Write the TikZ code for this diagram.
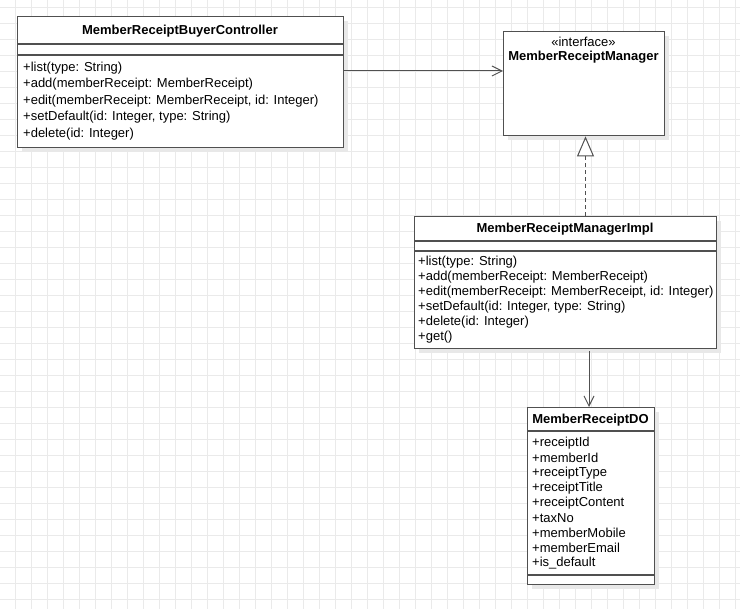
\documentclass[tikz,border=0pt]{standalone}
\usepackage{fontspec}
\setmainfont{Liberation Sans}
\usetikzlibrary{arrows.meta,calc}
\definecolor{gridc}{HTML}{EAEAEA}
\definecolor{linec}{HTML}{505050}
\definecolor{shadowc}{HTML}{E8E8E8}
\tikzset{
  classbox/.style={draw=linec, line width=1.4pt, fill=white, inner sep=0pt, anchor=north west},
  divider/.style={draw=linec, line width=1.1pt},
  txt/.style={anchor=west, inner sep=0pt, font=\fontsize{13}{15}\selectfont, text=black},
  ttl/.style={anchor=center, inner sep=0pt, font=\bfseries\fontsize{13}{15}\selectfont, text=black},
  conn/.style={draw=linec, line width=1pt},
}
\newcommand{\shadowbox}[4]{\fill[shadowc] ({#1+5},{#2+5}) rectangle ({#3+5},{#4+5});}
\begin{document}
\begin{tikzpicture}[x=1pt,y=-1pt]
\fill[white] (0,0) rectangle (740,609);
\useasboundingbox (0,0) rectangle (740,609);
% grid
\foreach \gx in {0,...,45} {\draw[gridc, line width=0.7pt] ({15+16*\gx},0) -- ({15+16*\gx},609);}
\foreach \gy in {0,...,37} {\draw[gridc, line width=0.7pt] (0,{7+16*\gy}) -- (740,{7+16*\gy});}

% shadows
\shadowbox{17}{16}{343}{147}
\shadowbox{503}{31}{664}{135}
\shadowbox{414}{216}{716}{348}
\shadowbox{527}{407}{654}{584}

% Controller
\node[classbox, minimum width=326pt, minimum height=131pt] (ctrl) at (17,16) {};
\draw[divider] (17,44) -- (343,44);
\draw[divider] (17,55) -- (343,55);
\node[ttl] (ctrlt) at (180,31) {MemberReceiptBuyerController};
\node[txt] (c1) at (23,68) {+list(type: String)};
\node[txt] (c2) at (23,84.5) {+add(memberReceipt: MemberReceipt)};
\node[txt] (c3) at (23,101) {+edit(memberReceipt: MemberReceipt, id: Integer)};
\node[txt] (c4) at (23,117.5) {+setDefault(id: Integer, type: String)};
\node[txt] (c5) at (23,134) {+delete(id: Integer)};

% Interface
\node[classbox, minimum width=161pt, minimum height=104pt] (mgr) at (503,31) {};
\node[anchor=center, inner sep=0pt, font=\fontsize{13}{15}\selectfont] (mgrs) at (583.5,42) {«interface»};
\node[ttl] (mgrt) at (583.5,57) {MemberReceiptManager};

% Impl
\node[classbox, minimum width=302pt, minimum height=132pt] (impl) at (414,216) {};
\draw[divider] (414,241) -- (716,241);
\draw[divider] (414,251) -- (716,251);
\node[ttl] (implt) at (565,229) {MemberReceiptManagerImpl};
\node[txt] (i1) at (418,262) {+list(type: String)};
\node[txt] (i2) at (418,277) {+add(memberReceipt: MemberReceipt)};
\node[txt] (i3) at (418,292) {+edit(memberReceipt: MemberReceipt, id: Integer)};
\node[txt] (i4) at (418,307) {+setDefault(id: Integer, type: String)};
\node[txt] (i5) at (418,322) {+delete(id: Integer)};
\node[txt] (i6) at (418,337) {+get()};

% DO
\node[classbox, minimum width=127pt, minimum height=177pt] (do) at (527,407) {};
\draw[divider] (527,431) -- (654,431);
\draw[divider] (527,575) -- (654,575);
\node[ttl] (dot) at (590.5,420) {MemberReceiptDO};
\node[txt] (d1) at (532,443) {+receiptId};
\node[txt] (d2) at (532,458) {+memberId};
\node[txt] (d3) at (532,473) {+receiptType};
\node[txt] (d4) at (532,488) {+receiptTitle};
\node[txt] (d5) at (532,503) {+receiptContent};
\node[txt] (d6) at (532,518) {+taxNo};
\node[txt] (d7) at (532,533) {+memberMobile};
\node[txt] (d8) at (532,548) {+memberEmail};
\node[txt] (d9) at (532,563) {+is\_default};

% connectors
\coordinate (a1) at (0,71);
\draw[conn, -{Straight Barb[length=10pt,width=10pt]}] (ctrl.east |- a1) -- (mgr.west |- a1);
\coordinate (a2) at (585.5,0);
\draw[conn, dashed, dash pattern=on 4pt off 3pt, -{Triangle[open, fill=white, length=20pt, width=17pt]}] (impl.north -| a2) -- (mgr.south -| a2);
\coordinate (a3) at (589,0);
\draw[conn, -{Straight Barb[length=10pt,width=10pt]}] ($(impl.south -| a3)+(0,2)$) -- (do.north -| a3);
\end{tikzpicture}
\end{document}
